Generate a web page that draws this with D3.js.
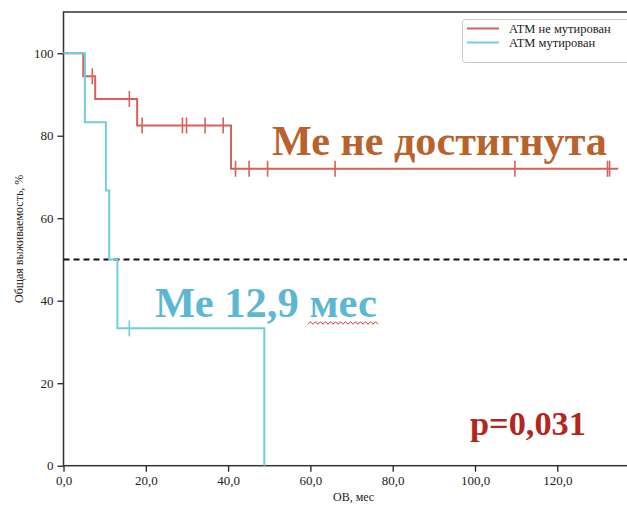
<!DOCTYPE html>
<html>
<head>
<meta charset="utf-8">
<script src="https://cdn.jsdelivr.net/npm/d3@7"></script>
<style>
  body { margin: 0; background: #fff; }
  text { font-family: "Liberation Serif", "DejaVu Serif", serif; }
</style>
</head>
<body>
<script>
// ATM не мутирован (red): step times, survival, censored times
const redT = [0, 4.8, 7.7, 17.9, 40.7]
const redS = [100, 94.4, 88.9, 82.5, 72.0]
const redEnd = 134.8
const redCens = [7.0, 16.0, 19.1, 28.9, 29.9, 34.4, 38.8, 41.8, 45.1, 49.6, 66.0, 109.7, 132.2, 132.7]

// ATM мутирован (cyan)
const blueT = [0, 5.2, 10.3, 11.1, 13.1, 48.8]
const blueS = [100, 83.3, 66.7, 50.0, 33.3, 0]
const blueEnd = 48.8
const blueCens = [16.0]

const xTicks = [0, 20, 40, 60, 80, 100, 120]
const yTicks = [0, 20, 40, 60, 80, 100]
const seriesNames = ['ATM не мутирован', 'ATM мутирован']

const w = 627
const h = 506
const padLeft = 63.5
const padTop = 12
const padBottom = 465.7
const red = '#d4625a'
const cyan = '#6fcfd9'

const svg = d3.select('body')
     .append('svg')
     .attr('width', w)
     .attr('height', h)

const xScale = d3.scaleLinear().domain([0, 141]).range([padLeft, padLeft + 141 * 4.115])
const yScale = d3.scaleLinear().domain([0, 110]).range([padBottom, padTop])

// axes
const xAxis = d3.axisBottom(xScale).tickValues(xTicks).tickSize(6).tickPadding(4)
     .tickFormat(d => d3.format('.1f')(d).replace('.', ','))
const yAxis = d3.axisLeft(yScale).tickValues(yTicks).tickSize(6).tickPadding(4)

const gx = svg.append('g')
     .attr('transform', 'translate(0,' + padBottom + ')')
     .call(xAxis)
const gy = svg.append('g')
     .attr('transform', 'translate(' + padLeft + ',0)')
     .call(yAxis)

;[gx, gy].forEach(g => {
     g.select('.domain').remove()
     g.selectAll('line').attr('stroke', '#222').attr('stroke-width', 1.3)
     g.selectAll('text').attr('font-family', 'Liberation Serif').attr('font-size', 13).attr('fill', '#222')
})

// frame
svg.append('rect')
     .attr('x', padLeft)
     .attr('y', padTop)
     .attr('width', xScale(141) - padLeft)
     .attr('height', padBottom - padTop)
     .attr('fill', 'none')
     .attr('stroke', '#333')
     .attr('stroke-width', 1.5)

// 50% line
svg.append('line')
     .attr('x1', xScale(0)).attr('x2', xScale(141))
     .attr('y1', yScale(50)).attr('y2', yScale(50))
     .attr('stroke', '#111')
     .attr('stroke-width', 2)
     .attr('stroke-dasharray', '6,4')

function stepPoints(T, S, end) {
     const pts = T.map((t, i) => [t, S[i]])
     pts.push([end, S[S.length - 1]])
     return pts
}

function survAt(T, S, t) {
     let s = S[0]
     T.forEach((tt, i) => { if (tt <= t) s = S[i] })
     return s
}

const line = d3.line()
     .x(d => xScale(d[0]))
     .y(d => yScale(d[1]))
     .curve(d3.curveStepAfter)

function drawSeries(T, S, end, cens, color) {
     svg.append('path')
          .attr('d', line(stepPoints(T, S, end)))
          .attr('fill', 'none')
          .attr('stroke', color)
          .attr('stroke-width', 2)
     svg.selectAll(null)
          .data(cens)
          .enter()
          .append('line')
          .attr('x1', d => xScale(d))
          .attr('x2', d => xScale(d))
          .attr('y1', d => yScale(survAt(T, S, d)) - 8)
          .attr('y2', d => yScale(survAt(T, S, d)) + 8)
          .attr('stroke', color)
          .attr('stroke-width', 1.6)
}

drawSeries(redT, redS, redEnd, redCens, red)
drawSeries(blueT, blueS, blueEnd, blueCens, cyan)

// axis labels
svg.append('text')
     .attr('x', (padLeft + xScale(141)) / 2)
     .attr('y', 501)
     .attr('text-anchor', 'middle')
     .attr('font-size', 12)
     .attr('fill', '#222')
     .text('ОВ, мес')

svg.append('text')
     .attr('transform', 'translate(23,' + ((padTop + padBottom) / 2) + ') rotate(-90)')
     .attr('text-anchor', 'middle')
     .attr('font-size', 12)
     .attr('fill', '#222')
     .text('Общая выживаемость, %')

// legend
const legend = svg.append('g')
legend.append('rect')
     .attr('x', 462.5).attr('y', 19.5)
     .attr('width', 180).attr('height', 43)
     .attr('rx', 3)
     .attr('fill', '#fff')
     .attr('stroke', '#ccc')
;[red, cyan].forEach((c, i) => {
     legend.append('line')
          .attr('x1', 467).attr('x2', 499)
          .attr('y1', 28.5 + i * 14).attr('y2', 28.5 + i * 14)
          .attr('stroke', c).attr('stroke-width', 2)
     legend.append('text')
          .attr('x', 509).attr('y', 33 + i * 14)
          .attr('font-size', 12.5)
          .attr('fill', '#222')
          .text(seriesNames[i])
})

// annotations, sized to target widths
function bigText(str, x, y, width, color) {
     const t = svg.append('text')
          .attr('x', x).attr('y', y)
          .attr('font-weight', 'bold')
          .attr('font-size', 40)
          .attr('fill', color)
          .text(str)
     const len = t.node().getComputedTextLength()
     t.attr('font-size', 40 * width / len)
     return t
}

bigText('Ме не достигнута', 272, 155, 335, '#b8622c')
bigText('Ме 12,9 мес', 155, 317, 222, '#5cb8d2')
bigText('p=0,031', 470, 435, 116, '#b3261e')

// spell-check squiggle under "мес"
const sq = []
for (let x = 308, k = 0; x <= 378; x += 2.5, k++) sq.push([x, 323 + (k % 2 ? -1.3 : 1.3)])
svg.append('path')
     .attr('d', d3.line()(sq))
     .attr('fill', 'none')
     .attr('stroke', '#e0332b')
     .attr('stroke-width', 1)
</script>
</body>
</html>
